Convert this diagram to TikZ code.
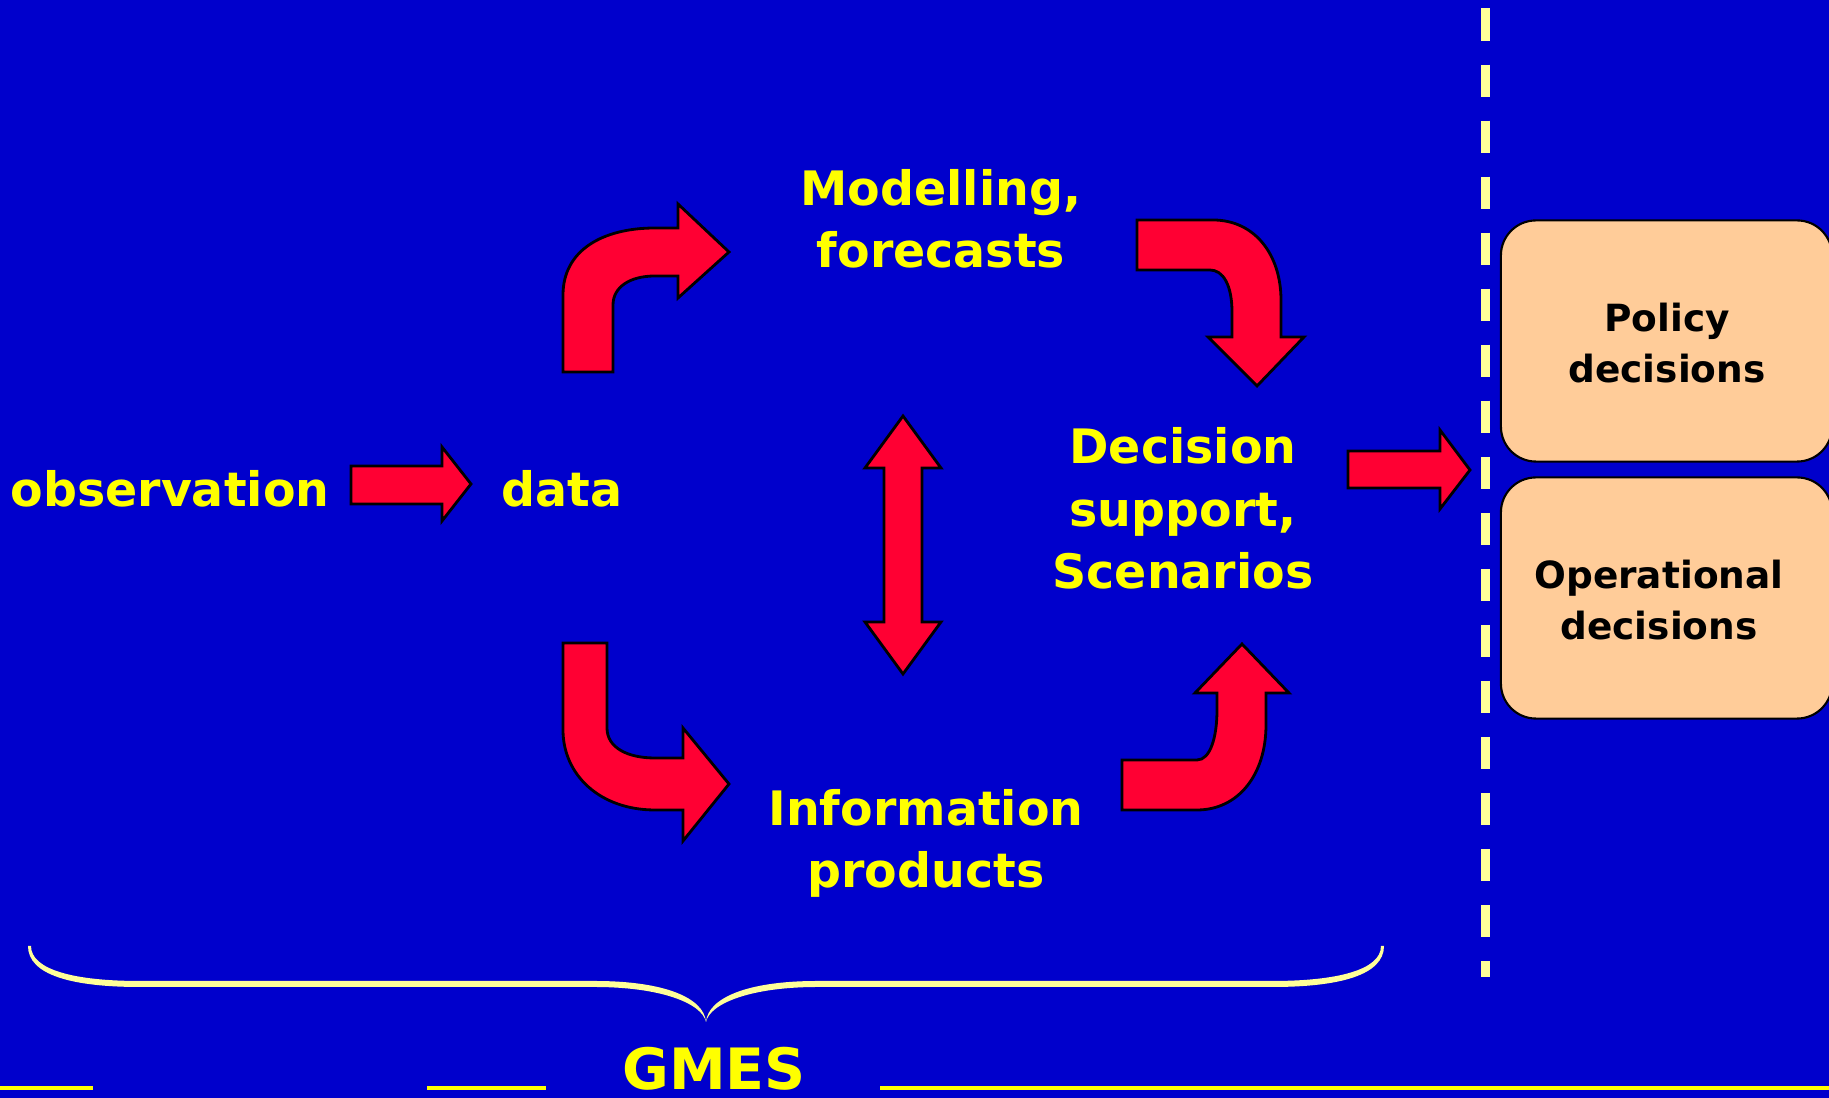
\documentclass[tikz,border=0pt]{standalone}
\usepackage{fontspec}
\setmainfont{DejaVu Sans}
\definecolor{bgblue}{HTML}{0000CC}
\definecolor{arrowred}{HTML}{FF0033}
\definecolor{peach}{HTML}{FFCC99}
\definecolor{txtyellow}{HTML}{FFFF00}
\definecolor{paleyellow}{HTML}{FFFF99}
\tikzset{
  blockarrow/.style={fill=arrowred, draw=black, line width=0.8pt, line join=miter},
  ylabel/.style={text=txtyellow, font=\bfseries\fontsize{13.5}{17.8}\selectfont, align=center, anchor=base, inner sep=0pt},
  decbox/.style={fill=peach, draw=black, line width=0.6pt, rounded corners=0.35cm},
  boxlabel/.style={text=black, font=\bfseries\fontsize{10.65}{14.7}\selectfont, align=center, anchor=base, inner sep=0pt},
  sepline/.style={paleyellow, line width=0.09cm, dash pattern=on 0.32cm off 0.24cm},
  baseline/.style={txtyellow, line width=0.035cm},
}
\begin{document}
\begin{tikzpicture}[x=0.01cm, y=-0.01cm]
\path[use as bounding box, fill=bgblue] (0,0) rectangle (1829,1098);
\clip (0,0) rectangle (1829,1098);

% text labels
\node[ylabel] (obs) at (170,507) {observation};
\node[ylabel] (data) at (562,507) {data};
\node[ylabel] (model) at (941,268) {Modelling,\\forecasts};
\node[ylabel] (decision) at (1183,589) {Decision\\support,\\Scenarios};
\node[ylabel] (info) at (926,888) {Information\\products};
\node[text=txtyellow, font=\bfseries\fontsize{16.2}{18}\selectfont, anchor=base, inner sep=0pt] (gmes) at (714,1090) {GMES};

% decision boxes
\node[decbox, minimum width=3.31cm, minimum height=2.41cm] (policybox) at (1666.5,341) {};
\node[decbox, minimum width=3.31cm, minimum height=2.41cm] (opbox) at (1666.5,598) {};
\node[boxlabel] (policy) at (1667,383) {Policy\\decisions};
\node[boxlabel] (oper) at (1659,640) {Operational\\decisions};

% separator
\draw[sepline] (1485,8.5) -- (1485,977);

% straight block arrows
\draw[blockarrow] (351,466) -- (442,466) -- (442,447) -- (471,484) -- (442,521) -- (442,504) -- (351,504) -- cycle;
\draw[blockarrow] (1348,451) -- (1440,451) -- (1440,430) -- (1470,470) -- (1440,509) -- (1440,488) -- (1348,488) -- cycle;
\draw[blockarrow] (903,416) -- (941,468) -- (922,468) -- (922,622) -- (941,622) -- (903,674) -- (865,622) -- (884,622) -- (884,468) -- (865,468) -- cycle;

% curved block arrows
\draw[blockarrow] (563,372) -- (563,295) .. controls (563,250) and (603,228) .. (655,228) -- (678,228) -- (678,204) -- (729,252) -- (678,298) -- (678,276) -- (655,276) .. controls (630,276) and (613,287) .. (613,305) -- (613,372) -- cycle;
\draw[blockarrow] (1137,220) -- (1213,220) .. controls (1255,220) and (1281,255) .. (1281,300) -- (1281,337) -- (1304,337) -- (1257,386) -- (1208,337) -- (1232,337) -- (1232,312) .. controls (1232,285) and (1223,270) .. (1210,270) -- (1137,270) -- cycle;
\draw[blockarrow] (563,643) -- (607,643) -- (607,728) .. controls (607,748) and (628,758) .. (655,758) -- (683,758) -- (683,728) -- (729,784) -- (683,841) -- (683,810) -- (655,810) .. controls (600,810) and (563,775) .. (563,730) -- cycle;
\draw[blockarrow] (1122,760) -- (1197,760) .. controls (1210,760) and (1217,738) .. (1217,710) -- (1217,693) -- (1195,693) -- (1242,644) -- (1289,693) -- (1266,693) -- (1266,725) .. controls (1266,775) and (1238,810) .. (1197,810) -- (1122,810) -- cycle;

% brace
\fill[paleyellow] (31,946) .. controls (31,970) and (75,981) .. (140,981) -- (595,981) .. controls (665,981) and (704,998) .. (706,1022) .. controls (708,998) and (747,981) .. (817,981) -- (1272,981) .. controls (1337,981) and (1381,970) .. (1381,946) -- (1384,946) .. controls (1384,975) and (1340,987) .. (1272,987) -- (817,987) .. controls (752,987) and (710,1003) .. (706,1022) .. controls (702,1003) and (660,987) .. (595,987) -- (140,987) .. controls (72,987) and (28,975) .. (28,946) -- cycle;

% bottom rules
\draw[baseline] (0,1088) -- (93,1088);
\draw[baseline] (427,1088) -- (546,1088);
\draw[baseline] (880,1088) -- (1829,1088);
\end{tikzpicture}
\end{document}
